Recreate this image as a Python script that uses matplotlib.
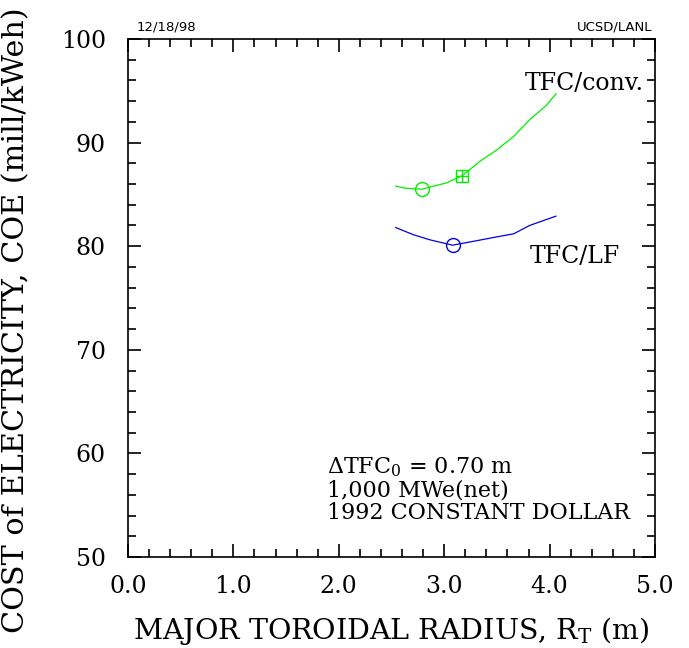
import numpy as np
import matplotlib
matplotlib.use("Agg")
import matplotlib.pyplot as plt
from matplotlib.ticker import MultipleLocator

##Data
conv_r = [2.54, 2.63, 2.79, 2.90, 3.02, 3.17, 3.34, 3.50, 3.66, 3.81, 3.97, 4.06]
conv_coe = [85.8, 85.6, 85.5, 85.8, 86.1, 86.8, 88.2, 89.3, 90.6, 92.2, 93.6, 94.7]
lf_r = [2.54, 2.71, 2.87, 3.08, 3.24, 3.50, 3.66, 3.81, 4.06]
lf_coe = [81.8, 81.1, 80.6, 80.1, 80.4, 80.9, 81.2, 82.0, 82.9]

conv_opt_r, conv_opt_coe = [2.79], [85.5]
conv_sq_r, conv_sq_coe = [3.17], [86.8]
lf_opt_r, lf_opt_coe = [3.08], [80.1]

plt.rcParams['font.family'] = 'DejaVu Serif'
plt.rcParams['mathtext.fontset'] = 'dejavuserif'

fig = plt.figure(figsize=(6.89, 6.48), dpi=100)
ax = fig.add_axes([128/689, 91/648, 527/689, 518/648])

ax.plot(conv_r, conv_coe, color='#00ee00', lw=0.9)
ax.plot(lf_r, lf_coe, color='#0000ee', lw=0.9)
ax.plot(conv_opt_r, conv_opt_coe, 'o', ms=10, mfc='none', mec='#00ee00', mew=1)
ax.plot(conv_sq_r, conv_sq_coe, 's', ms=9, mfc='none', mec='#00ee00', mew=1)
ax.plot(conv_sq_r, conv_sq_coe, '+', ms=9, mec='#00ee00', mew=1)
ax.plot(lf_opt_r, lf_opt_coe, 'o', ms=10, mfc='none', mec='#0000ee', mew=1)

ax.set_xlim(0, 5)
ax.set_ylim(50, 100)
ax.xaxis.set_major_locator(MultipleLocator(1))
ax.xaxis.set_minor_locator(MultipleLocator(0.2))
ax.yaxis.set_major_locator(MultipleLocator(10))
ax.yaxis.set_minor_locator(MultipleLocator(2))
ax.set_xticks([0, 1, 2, 3, 4, 5])
ax.set_xticklabels(['0.0', '1.0', '2.0', '3.0', '4.0', '5.0'])
ax.tick_params(which='both', direction='in', top=True, right=True, width=1.2)
ax.tick_params(which='major', length=9.5, labelsize=17)
ax.tick_params(axis='x', which='major', pad=13)
ax.tick_params(axis='y', which='major', pad=16)
ax.tick_params(which='minor', length=5.5)
for s in ax.spines.values():
    s.set_linewidth(1.2)

ax.set_xlabel('MAJOR TOROIDAL RADIUS, R$_\\mathrm{T}$ (m)', fontsize=20.5, labelpad=12)
ax.set_ylabel('COST of ELECTRICITY, COE (mill/kWeh)', fontsize=21.8)
ax.yaxis.set_label_coords(-0.185, 0.457)

ax.text(4.89, 95.75, 'TFC/conv.', fontsize=17, ha='right', va='center')
ax.text(4.67, 78.96, 'TFC/LF', fontsize=17, ha='right', va='center')
ax.text(1.89, 56.5, '$\\Delta$TFC$_\\mathrm{0}$ = 0.70 m\n1,000 MWe(net)\n1992 CONSTANT DOLLAR',
        fontsize=16, ha='left', va='center', linespacing=1.05)

fig.text(137/689, 1 - 27/648, '12/18/98', fontsize=9.5, family='DejaVu Sans', va='center')
fig.text(652/689, 1 - 27/648, 'UCSD/LANL', fontsize=9.5, family='DejaVu Sans', va='center', ha='right')

fig.savefig('out.png', dpi=100)
